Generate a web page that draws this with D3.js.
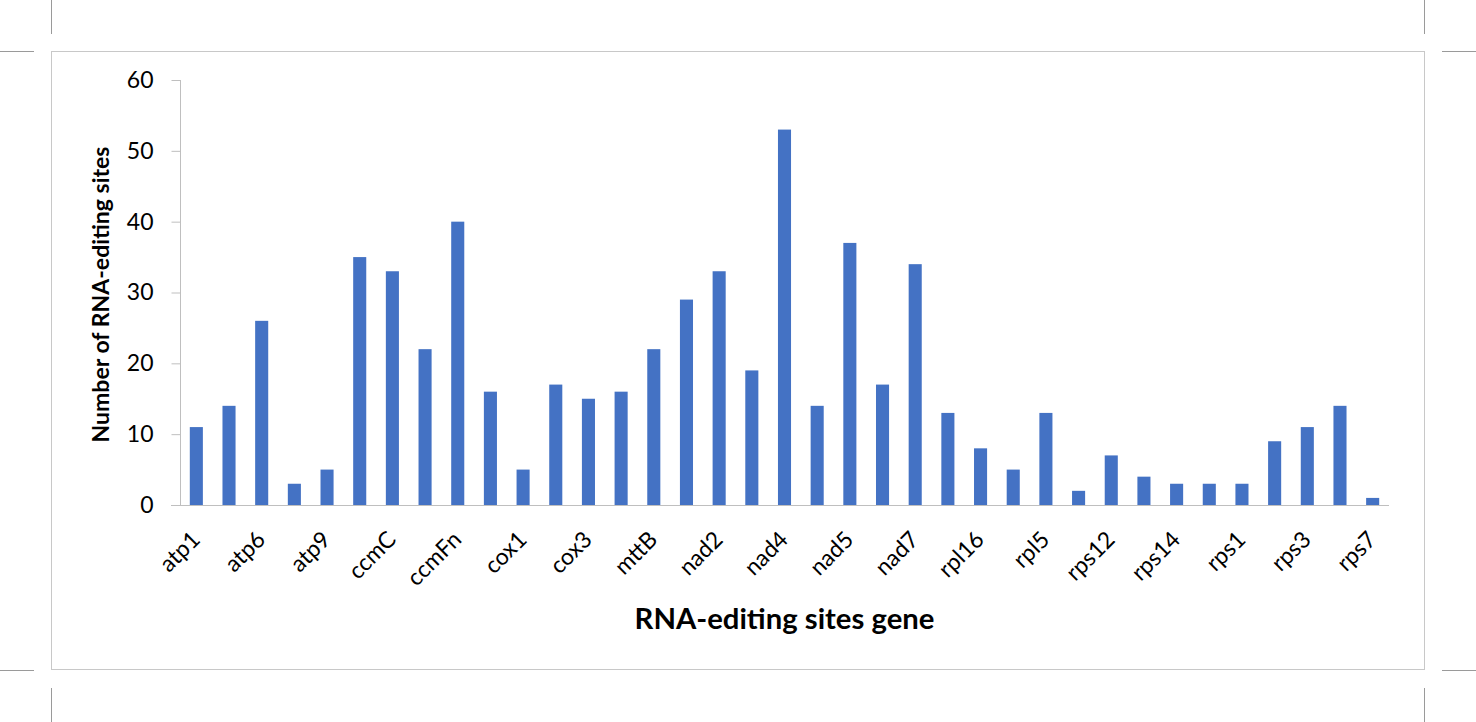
<!DOCTYPE html>
<html>
<head>
<meta charset="utf-8">
<script src="https://cdn.jsdelivr.net/npm/d3@7"></script>
<style>
  html, body { margin: 0; padding: 0; background: #fff; }
  svg { display: block; font-family: Lato, "Open Sans", sans-serif; }
</style>
</head>
<body>
<div id="chart"></div>
<script>
// gene names, one per bar (only every other one is labelled, as in the original)
const genes = ["atp1", "atp4", "atp6", "atp8", "atp9", "ccmB", "ccmC", "ccmFc", "ccmFn", "cob",
               "cox1", "cox2", "cox3", "matR", "mttB", "nad1", "nad2", "nad3", "nad4", "nad4L",
               "nad5", "nad6", "nad7", "rpl10", "rpl16", "rpl2", "rpl5", "rps10", "rps12", "rps13",
               "rps14", "rps19", "rps1", "rps2", "rps3", "rps4", "rps7"]
const sites = [11, 14, 26, 3, 5, 35, 33, 22, 40, 16,
               5, 17, 15, 16, 22, 29, 33, 19, 53, 14,
               37, 17, 34, 13, 8, 5, 13, 2, 7, 4,
               3, 3, 3, 9, 11, 14, 1]
const yTicks = [0, 10, 20, 30, 40, 50, 60]

const width = 1476,
    height = 722

const svg = d3.select("#chart").append("svg")
    .attr("width", width)
    .attr("height", height)

const grey = "#bfbfbf"

// outer frame plus the little crop marks at each corner
const frame = svg.append("g").attr("name", "frame")
frame.append("rect")
    .attr("x", 51.5).attr("y", 51.5)
    .attr("width", 1373).attr("height", 618)
    .attr("fill", "none")
    .attr("stroke", "#c8c8c8")

const marks = [
    [51.5, 0, 51.5, 34], [0, 51.5, 34, 51.5],
    [1424.5, 0, 1424.5, 34], [1442, 51.5, 1476, 51.5],
    [51.5, 688, 51.5, 722], [0, 670.5, 34, 670.5],
    [1424.5, 688, 1424.5, 722], [1442, 670.5, 1476, 670.5]
]
frame.selectAll("line")
    .data(marks)
    .join("line")
    .attr("x1", d => d[0]).attr("y1", d => d[1])
    .attr("x2", d => d[2]).attr("y2", d => d[3])
    .attr("stroke", "#9a9a9a")
    .attr("stroke-width", 1)

let x = d3.scaleBand()
    .domain(genes)
    .range([180, 1389])
    .paddingInner(0.6)
    .paddingOuter(0.3)

let y = d3.scaleLinear()
    .domain([0, 60])
    .range([505, 80])

// y axis: grey line with short ticks on the left
let yAxis = svg.append("g")
    .attr("transform", "translate(180.5,0)")
    .call(d3.axisLeft(y).tickValues(yTicks).tickSize(9).tickPadding(18))
yAxis.select(".domain").attr("stroke", grey).attr("d", "M0,80V505")
yAxis.selectAll(".tick line").attr("stroke", grey)
yAxis.selectAll(".tick text")
    .attr("fill", "#000")
    .attr("font-size", 23)
    .attr("font-family", "Lato, sans-serif")

// bars
svg.append("g")
    .selectAll("rect")
    .data(sites)
    .join("rect")
    .attr("x", (d, i) => x(genes[i]))
    .attr("y", d => y(d))
    .attr("width", x.bandwidth())
    .attr("height", d => y(0) - y(d))
    .attr("fill", "#4472c4")

// x axis line
svg.append("line")
    .attr("x1", 171).attr("x2", 1389)
    .attr("y1", y(0) + 0.5).attr("y2", y(0) + 0.5)
    .attr("stroke", grey)

// category labels, every other one, turned 45 degrees
svg.append("g")
    .selectAll("text")
    .data(genes.filter((g, i) => i % 2 == 0))
    .join("text")
    .attr("transform", d => "translate(" + (x(d) + x.bandwidth() / 2 + 5) + ",541) rotate(-45)")
    .attr("text-anchor", "end")
    .attr("font-size", 23)
    .attr("fill", "#000")
    .text(d => d)

// axis titles; size them so they take the same room as in the original
function fitText(sel, targetWidth) {
    sel.attr("font-size", 100)
    let len = sel.node().getComputedTextLength()
    sel.attr("font-size", 100 * targetWidth / len)
}

let xTitle = svg.append("text")
    .attr("x", (180 + 1389) / 2)
    .attr("y", 629)
    .attr("text-anchor", "middle")
    .attr("font-weight", "bold")
    .attr("fill", "#000")
    .text("RNA-editing sites gene")
fitText(xTitle, 300)

let yTitle = svg.append("text")
    .attr("transform", "translate(109," + (y(30) + 2) + ") rotate(-90)")
    .attr("text-anchor", "middle")
    .attr("font-weight", "bold")
    .attr("fill", "#000")
    .text("Number of RNA-editing sites")
fitText(yTitle, 296)
</script>
</body>
</html>
